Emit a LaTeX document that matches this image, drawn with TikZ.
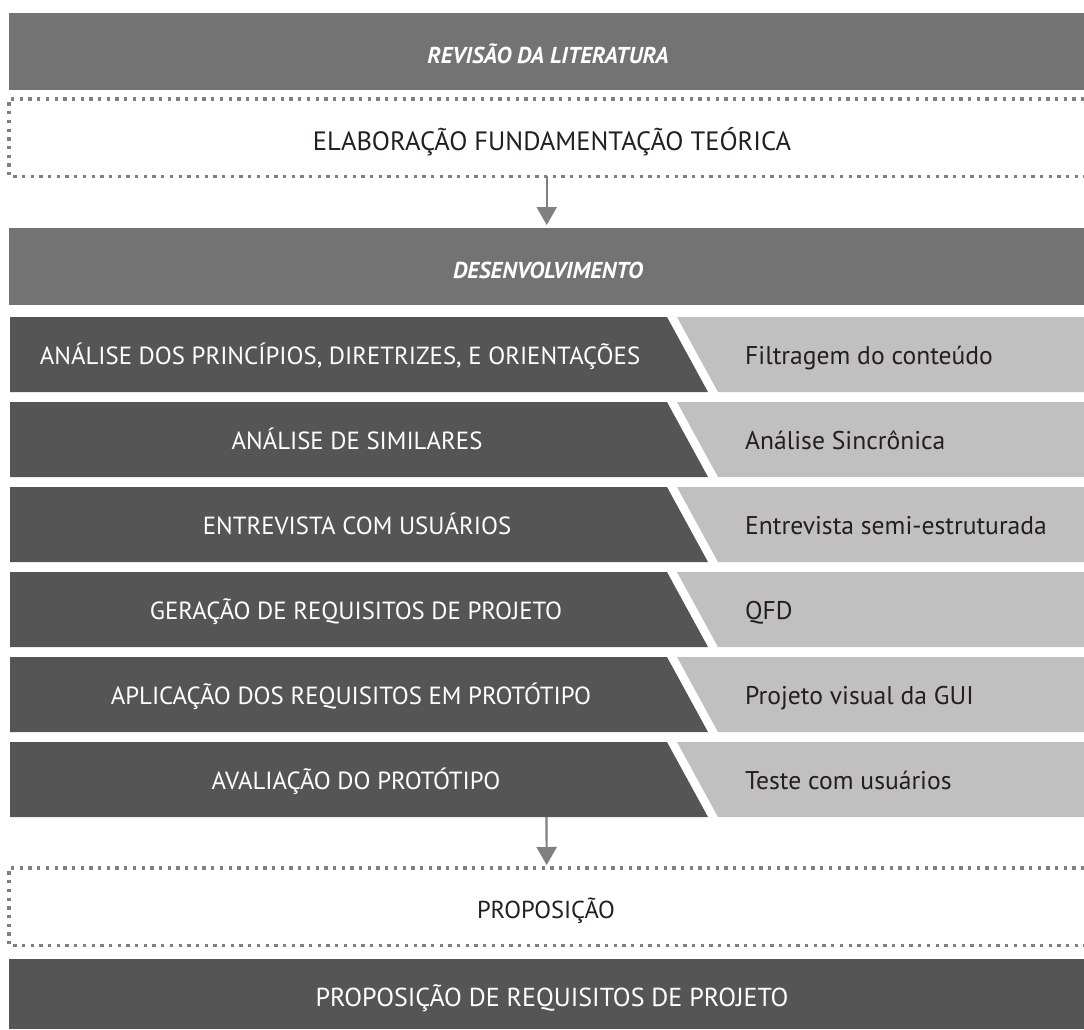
\documentclass[tikz,border=0pt]{standalone}
\usepackage{fontspec}
\setmainfont{PT Sans}
\usetikzlibrary{arrows.meta}

\definecolor{headgray}{HTML}{737373}
\definecolor{stepdark}{HTML}{555555}
\definecolor{steplight}{HTML}{C0C0C0}
\definecolor{dotgray}{HTML}{808080}
\definecolor{inkdark}{HTML}{231F20}

\begin{document}
\begin{tikzpicture}[x=1pt,y=-1pt,
  band/.style={rectangle, fill=headgray, inner sep=0pt, anchor=north west,
    minimum width=1075pt, minimum height=77pt},
  darkband/.style={band, fill=stepdark},
  dotbox/.style={rectangle, inner sep=0pt, anchor=north west,
    minimum width=1075pt, minimum height=77pt},
  dotline/.style={draw=dotgray, line width=3.3pt,
    dash pattern=on 3.3pt off 5.4pt},
  headtxt/.style={text=white, inner sep=0pt, anchor=base,
    font=\fontsize{23}{27}\selectfont\bfseries\itshape},
  boxtxt/.style={text=inkdark, inner sep=0pt, anchor=base,
    font=\fontsize{26.5}{30}\selectfont},
  bandtxt/.style={text=white, inner sep=0pt, anchor=base,
    font=\fontsize{26}{30}\selectfont},
  rowtxt/.style={text=white, inner sep=0pt, anchor=base,
    font=\fontsize{24.8}{29}\selectfont},
  subtxt/.style={text=inkdark, inner sep=0pt, anchor=base west,
    font=\fontsize{25.6}{30}\selectfont},
  arr/.style={draw=dotgray, line width=2.2pt,
    -{Triangle[width=20pt,length=18pt]}, shorten >=3pt}
]
\useasboundingbox (0,0) rectangle (1084,1029);
\fill[white] (0,0) rectangle (1084,1029);

% literature review
\node[band] (rev) at (9,13) {};
\node[headtxt] (revlbl) at (548,63) {REVISÃO DA LITERATURA};
\node[dotbox] (fund) at (9,99) {};
\node[boxtxt] (fundlbl) at (552,150) {ELABORAÇÃO FUNDAMENTAÇÃO TEÓRICA};
\draw[dotline] (fund.north east) -- (fund.north west) -- (fund.south west) -- (fund.south east);

% development
\node[band] (dev) at (9,228) {};
\node[headtxt] (devlbl) at (548,278) {DESENVOLVIMENTO};
\draw[arr] (fund.south) -- (dev.north);

% development steps: activity on the left, method on the right
\foreach \i/\cx/\l/\r in {
  0/340/{ANÁLISE DOS PRINCÍPIOS, DIRETRIZES, E ORIENTAÇÕES}/{Filtragem do conteúdo},
  1/357/{ANÁLISE DE SIMILARES}/{Análise Sincrônica},
  2/357/{ENTREVISTA COM USUÁRIOS}/{Entrevista semi-estruturada},
  3/356/{GERAÇÃO DE REQUISITOS DE PROJETO}/{QFD},
  4/351/{APLICAÇÃO DOS REQUISITOS EM PROTÓTIPO}/{Projeto visual da GUI},
  5/356/{AVALIAÇÃO DO PROTÓTIPO}/{Teste com usuários}}{
  \pgfmathsetmacro\t{317+85*\i}
  \pgfmathsetmacro\b{\t+75}
  \fill[stepdark] (10,\t) -- (667,\t) -- (708,\b) -- (10,\b) -- cycle;
  \fill[steplight] (677,\t) -- (1084,\t) -- (1084,\b) -- (718,\b) -- cycle;
  \node[rowtxt] (act\i) at (\cx,\t+47) {\l};
  \node[subtxt] (met\i) at (745,\t+47) {\r};
}
\coordinate (stepsend) at (546.5,817);

% proposition
\node[dotbox] (prop) at (9,868) {};
\node[boxtxt, font=\fontsize{24.5}{28}\selectfont] (proplbl) at (546,918.5) {PROPOSIÇÃO};
\draw[dotline] (prop.north east) -- (prop.north west) -- (prop.south west) -- (prop.south east);
\draw[arr] (stepsend) -- (prop.north);

\node[darkband, minimum height=70pt] (req) at (9,959) {};
\node[bandtxt] (reqlbl) at (552,1006) {PROPOSIÇÃO DE REQUISITOS DE PROJETO};
\end{tikzpicture}
\end{document}
